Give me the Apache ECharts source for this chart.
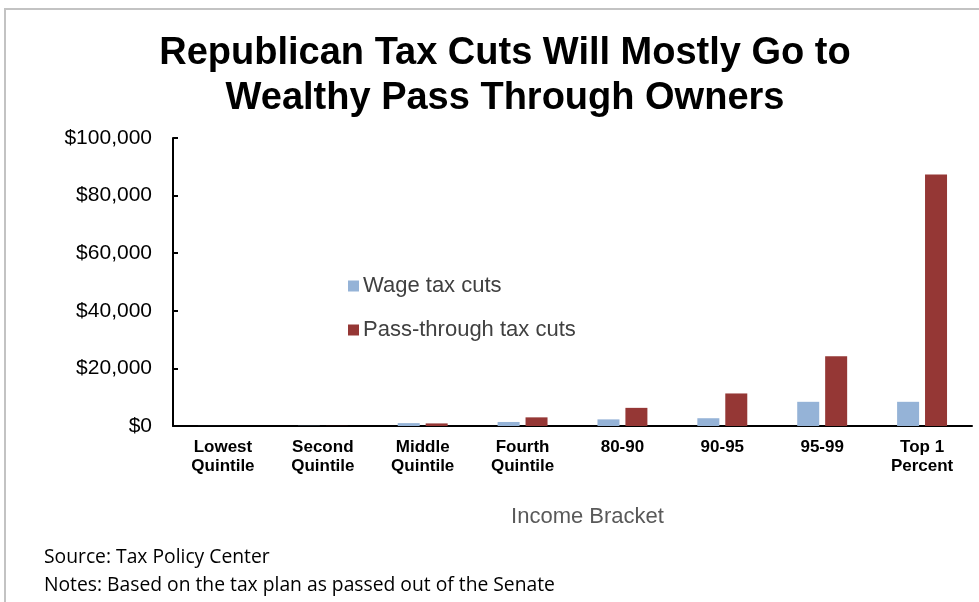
<!DOCTYPE html>
<html>
<head>
<meta charset="utf-8">
<script src="https://cdn.jsdelivr.net/npm/echarts@6/dist/echarts.min.js"></script>
<style>html,body{margin:0;padding:0;background:#fff;}#c{width:979px;height:602px;}</style>
</head>
<body>
<div id="c"></div>
<script>
const categories = ['Lowest\nQuintile', 'Second\nQuintile', 'Middle\nQuintile', 'Fourth\nQuintile', '80-90', '90-95', '95-99', 'Top 1\nPercent'];
const wageTaxCuts = [20, 60, 1000, 1400, 2300, 2700, 8400, 8400];
const passThroughTaxCuts = [10, 40, 900, 3000, 6300, 11300, 24200, 87300];
const yTicks = { min: 0, max: 100000, interval: 20000 };

const chart = echarts.init(document.getElementById('c'));
chart.setOption({
  animation: false,
  backgroundColor: '#fff',
  title: {
    text: 'Republican Tax Cuts Will Mostly Go to\nWealthy Pass Through Owners',
    left: 500, top: 26, textAlign: 'center',
    textStyle: { fontFamily: 'Liberation Sans', fontWeight: 'bold', fontSize: 38, lineHeight: 45, color: '#000' }
  },
  legend: {
    orient: 'vertical', left: 343, top: 270, itemWidth: 11, itemHeight: 11, itemGap: 22,
    icon: 'rect',
    textStyle: { fontFamily: 'Liberation Sans', fontSize: 22, color: '#404040', padding: [0, 0, 0, -1] },
    data: ['Wage tax cuts', 'Pass-through tax cuts']
  },
  grid: { left: 173, right: 7, top: 138, bottom: 176, containLabel: false },
  xAxis: {
    type: 'category', data: categories,
    name: 'Income Bracket', nameLocation: 'middle', nameGap: 80,
    nameTextStyle: { fontFamily: 'Liberation Sans', fontSize: 22, color: '#595959', padding: [0, 0, 0, 30] },
    axisLine: { lineStyle: { color: '#000', width: 2 } },
    axisTick: { show: false },
    axisLabel: { interval: 0, margin: 12, fontFamily: 'Liberation Sans', fontWeight: 'bold', fontSize: 17, lineHeight: 19, color: '#000' }
  },
  yAxis: {
    type: 'value', min: yTicks.min, max: yTicks.max, interval: yTicks.interval,
    axisLine: { show: true, lineStyle: { color: '#000', width: 2 } },
    axisTick: { show: true, inside: true, length: 5, lineStyle: { color: '#000', width: 2 } },
    splitLine: { show: false },
    axisLabel: {
      margin: 21, fontFamily: 'Liberation Sans', fontSize: 21, color: '#000',
      formatter: v => '$' + v.toLocaleString('en-US')
    }
  },
  series: [
    { name: 'Wage tax cuts', type: 'bar', data: wageTaxCuts, barGap: '27%', barCategoryGap: '50%',
      itemStyle: { color: '#95B3D7' } },
    { name: 'Pass-through tax cuts', type: 'bar', data: passThroughTaxCuts,
      itemStyle: { color: '#953735' } }
  ],
  graphic: [
    { type: 'rect', shape: { x: 5, y: 9, width: 1000, height: 700 }, style: { fill: 'none', stroke: '#c3c3c3', lineWidth: 2 }, silent: true },
    { type: 'text', left: 44, top: 548, style: { text: 'Source: Tax Policy Center', fontFamily: 'Open Sans', fontSize: 19.3, fill: '#000' } },
    { type: 'text', left: 44, top: 576, style: { text: 'Notes: Based on the tax plan as passed out of the Senate', fontFamily: 'Open Sans', fontSize: 19.3, fill: '#000' } }
  ]
});
</script>
</body>
</html>
